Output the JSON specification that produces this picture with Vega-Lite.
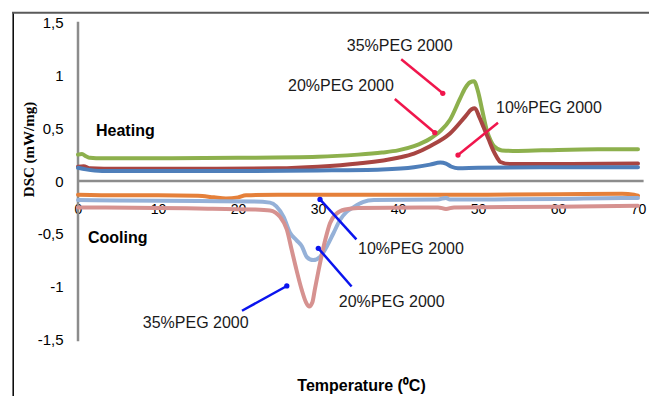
{
  "$schema": "https://vega.github.io/schema/vega-lite/v6.json",
  "width": 637,
  "height": 384,
  "autosize": "none",
  "padding": {"left": 12, "top": 12, "right": 0, "bottom": 0},
  "background": "white",
  "config": {"view": {"stroke": null}, "font": "Liberation Sans"},
  "datasets": {
    "one": [{}],
    "curves": [
      {"series": "h35", "T": 0, "v": 0.25}, {"series": "h35", "T": 0.5, "v": 0.255}, {"series": "h35", "T": 1, "v": 0.235}, {"series": "h35", "T": 1.5, "v": 0.22}, {"series": "h35", "T": 3, "v": 0.215}, {"series": "h35", "T": 10, "v": 0.215}, {"series": "h35", "T": 20, "v": 0.22}, {"series": "h35", "T": 30, "v": 0.23}, {"series": "h35", "T": 35, "v": 0.25}, {"series": "h35", "T": 38, "v": 0.27}, {"series": "h35", "T": 40, "v": 0.29}, {"series": "h35", "T": 42, "v": 0.33}, {"series": "h35", "T": 44, "v": 0.4}, {"series": "h35", "T": 45.25, "v": 0.47}, {"series": "h35", "T": 46.5, "v": 0.58}, {"series": "h35", "T": 47.75, "v": 0.78}, {"series": "h35", "T": 48.4, "v": 0.88}, {"series": "h35", "T": 49, "v": 0.935}, {"series": "h35", "T": 49.5, "v": 0.945}, {"series": "h35", "T": 50, "v": 0.85}, {"series": "h35", "T": 50.5, "v": 0.68}, {"series": "h35", "T": 51.1, "v": 0.48}, {"series": "h35", "T": 51.6, "v": 0.38}, {"series": "h35", "T": 52, "v": 0.33}, {"series": "h35", "T": 53, "v": 0.29}, {"series": "h35", "T": 55, "v": 0.285}, {"series": "h35", "T": 60, "v": 0.295}, {"series": "h35", "T": 65, "v": 0.3}, {"series": "h35", "T": 70, "v": 0.3},
      {"series": "h20", "T": 0, "v": 0.135}, {"series": "h20", "T": 0.7, "v": 0.14}, {"series": "h20", "T": 1.5, "v": 0.12}, {"series": "h20", "T": 5, "v": 0.115}, {"series": "h20", "T": 15, "v": 0.115}, {"series": "h20", "T": 25, "v": 0.12}, {"series": "h20", "T": 30, "v": 0.135}, {"series": "h20", "T": 35, "v": 0.165}, {"series": "h20", "T": 40, "v": 0.22}, {"series": "h20", "T": 42, "v": 0.26}, {"series": "h20", "T": 44, "v": 0.33}, {"series": "h20", "T": 46.5, "v": 0.45}, {"series": "h20", "T": 48.4, "v": 0.61}, {"series": "h20", "T": 49.2, "v": 0.68}, {"series": "h20", "T": 49.6, "v": 0.69}, {"series": "h20", "T": 50.2, "v": 0.6}, {"series": "h20", "T": 50.7, "v": 0.51}, {"series": "h20", "T": 51.3, "v": 0.4}, {"series": "h20", "T": 51.9, "v": 0.29}, {"series": "h20", "T": 52.4, "v": 0.22}, {"series": "h20", "T": 52.8, "v": 0.18}, {"series": "h20", "T": 54, "v": 0.16}, {"series": "h20", "T": 60, "v": 0.16}, {"series": "h20", "T": 70, "v": 0.165},
      {"series": "h10", "T": 0, "v": 0.125}, {"series": "h10", "T": 1, "v": 0.11}, {"series": "h10", "T": 3, "v": 0.095}, {"series": "h10", "T": 10, "v": 0.095}, {"series": "h10", "T": 20, "v": 0.095}, {"series": "h10", "T": 30, "v": 0.1}, {"series": "h10", "T": 38, "v": 0.11}, {"series": "h10", "T": 42, "v": 0.13}, {"series": "h10", "T": 44, "v": 0.155}, {"series": "h10", "T": 45.3, "v": 0.175}, {"series": "h10", "T": 46, "v": 0.165}, {"series": "h10", "T": 46.7, "v": 0.135}, {"series": "h10", "T": 47.5, "v": 0.12}, {"series": "h10", "T": 50, "v": 0.125}, {"series": "h10", "T": 60, "v": 0.13}, {"series": "h10", "T": 70, "v": 0.13},
      {"series": "c10", "T": 0, "v": -0.13}, {"series": "c10", "T": 5, "v": -0.135}, {"series": "c10", "T": 10, "v": -0.135}, {"series": "c10", "T": 15, "v": -0.14}, {"series": "c10", "T": 17, "v": -0.155}, {"series": "c10", "T": 18.5, "v": -0.165}, {"series": "c10", "T": 20, "v": -0.155}, {"series": "c10", "T": 21, "v": -0.135}, {"series": "c10", "T": 25, "v": -0.13}, {"series": "c10", "T": 30, "v": -0.13}, {"series": "c10", "T": 40, "v": -0.13}, {"series": "c10", "T": 50, "v": -0.13}, {"series": "c10", "T": 60, "v": -0.125}, {"series": "c10", "T": 68, "v": -0.12}, {"series": "c10", "T": 69.5, "v": -0.13}, {"series": "c10", "T": 70, "v": -0.14},
      {"series": "c20", "T": 0, "v": -0.18}, {"series": "c20", "T": 5, "v": -0.185}, {"series": "c20", "T": 15, "v": -0.19}, {"series": "c20", "T": 22, "v": -0.195}, {"series": "c20", "T": 24, "v": -0.205}, {"series": "c20", "T": 24.8, "v": -0.24}, {"series": "c20", "T": 25.7, "v": -0.34}, {"series": "c20", "T": 26.5, "v": -0.49}, {"series": "c20", "T": 27.3, "v": -0.56}, {"series": "c20", "T": 28, "v": -0.62}, {"series": "c20", "T": 28.6, "v": -0.72}, {"series": "c20", "T": 29.4, "v": -0.75}, {"series": "c20", "T": 30.25, "v": -0.72}, {"series": "c20", "T": 31.1, "v": -0.62}, {"series": "c20", "T": 31.9, "v": -0.5}, {"series": "c20", "T": 32.75, "v": -0.37}, {"series": "c20", "T": 33.6, "v": -0.29}, {"series": "c20", "T": 34.4, "v": -0.25}, {"series": "c20", "T": 35.6, "v": -0.2}, {"series": "c20", "T": 37, "v": -0.18}, {"series": "c20", "T": 45, "v": -0.175}, {"series": "c20", "T": 46, "v": -0.16}, {"series": "c20", "T": 46.5, "v": -0.175}, {"series": "c20", "T": 50, "v": -0.175}, {"series": "c20", "T": 60, "v": -0.17}, {"series": "c20", "T": 68, "v": -0.16}, {"series": "c20", "T": 70, "v": -0.16},
      {"series": "c35", "T": 0, "v": -0.25}, {"series": "c35", "T": 10, "v": -0.255}, {"series": "c35", "T": 15, "v": -0.26}, {"series": "c35", "T": 22, "v": -0.27}, {"series": "c35", "T": 24, "v": -0.28}, {"series": "c35", "T": 25.25, "v": -0.34}, {"series": "c35", "T": 26.1, "v": -0.46}, {"series": "c35", "T": 26.7, "v": -0.65}, {"series": "c35", "T": 27.3, "v": -0.84}, {"series": "c35", "T": 27.96, "v": -1.03}, {"series": "c35", "T": 28.5, "v": -1.15}, {"series": "c35", "T": 28.9, "v": -1.19}, {"series": "c35", "T": 29.3, "v": -1.15}, {"series": "c35", "T": 29.6, "v": -1.03}, {"series": "c35", "T": 30.25, "v": -0.78}, {"series": "c35", "T": 30.9, "v": -0.56}, {"series": "c35", "T": 31.5, "v": -0.4}, {"series": "c35", "T": 32.3, "v": -0.31}, {"series": "c35", "T": 33.4, "v": -0.27}, {"series": "c35", "T": 35, "v": -0.255}, {"series": "c35", "T": 45, "v": -0.25}, {"series": "c35", "T": 46, "v": -0.265}, {"series": "c35", "T": 47, "v": -0.25}, {"series": "c35", "T": 60, "v": -0.245}, {"series": "c35", "T": 70, "v": -0.235}
    ],
    "arrows": [
      {"group": "heat", "T": 40.4, "v": 1.154, "T2": 45.6, "v2": 0.831},
      {"group": "heat", "T": 39.6, "v": 0.777, "T2": 44.6, "v2": 0.458},
      {"group": "heat", "T": 52.5, "v": 0.553, "T2": 47.5, "v2": 0.246},
      {"group": "cool", "T": 34.8, "v": -0.553, "T2": 30.25, "v2": -0.175},
      {"group": "cool", "T": 34.2, "v": -1.0, "T2": 30.04, "v2": -0.638},
      {"group": "cool", "T": 20.5, "v": -1.23, "T2": 26.1, "v2": -0.995}
    ],
    "labels": [
      {"label": "35%PEG 2000", "T": 33.6, "v": 1.283},
      {"label": "20%PEG 2000", "T": 26.25, "v": 0.9},
      {"label": "10%PEG 2000", "T": 52.25, "v": 0.695},
      {"label": "10%PEG 2000", "T": 35.0, "v": -0.647},
      {"label": "20%PEG 2000", "T": 32.6, "v": -1.15},
      {"label": "35%PEG 2000", "T": 8.1, "v": -1.35}
    ],
    "phases": [
      {"label": "Heating", "T": 2.25, "v": 0.474},
      {"label": "Cooling", "T": 1.25, "v": -0.536}
    ]
  },
  "layer": [
    {
      "data": {"name": "one"},
      "mark": {"type": "rule", "color": "#000000", "strokeWidth": 1.5},
      "encoding": {
        "x": {"datum": -8.1, "type": "quantitative"},
        "y": {"datum": -2.038, "type": "quantitative"},
        "y2": {"datum": 1.602}
      }
    },
    {
      "data": {"name": "one"},
      "mark": {"type": "rule", "color": "#5a5a5a", "strokeWidth": 2},
      "encoding": {
        "y": {"datum": 1.595, "type": "quantitative"},
        "x": {"datum": -8.25, "type": "quantitative"},
        "x2": {"datum": 71.375}
      }
    },
    {
      "data": {"name": "one"},
      "mark": {"type": "rule", "color": "#8c8c8c", "strokeWidth": 2.5},
      "encoding": {
        "x": {"datum": 0, "type": "quantitative"},
        "y": {"datum": -1.52, "type": "quantitative"},
        "y2": {"datum": 1.51}
      }
    },
    {
      "data": {"name": "one"},
      "mark": {"type": "rule", "color": "#8c8c8c", "strokeWidth": 2.5},
      "encoding": {
        "y": {"datum": 0, "type": "quantitative"},
        "x": {"datum": 0, "type": "quantitative"},
        "x2": {"datum": 70.7}
      }
    },
    {
      "data": {"name": "curves"},
      "mark": {"type": "line", "strokeWidth": 4, "strokeCap": "round", "strokeJoin": "round", "interpolate": "monotone"},
      "encoding": {
        "x": {
          "field": "T", "type": "quantitative", "title": "Temperature (⁰C)",
          "scale": {"domain": [-8.25, 71.375], "nice": false, "zero": false},
          "axis": {
            "orient": "bottom", "offset": -215, "domain": false, "ticks": false, "tickSize": 0, "grid": false,
            "values": [0, 10, 20, 30, 40, 50, 60, 70], "labelPadding": 21, "labelFontSize": 14,
            "labelFont": "Liberation Sans", "labelColor": "#000000",
            "titleX": 349, "titleY": 204, "titleFont": "Liberation Sans", "titleFontWeight": "bold",
            "titleFontSize": 16, "titleBaseline": "middle", "titleAlign": "center", "titleColor": "#000000"
          }
        },
        "y": {
          "field": "v", "type": "quantitative", "title": "DSC (mW/mg)",
          "scale": {"domain": [-2.038, 1.602], "nice": false, "zero": false},
          "axis": {
            "orient": "left", "offset": -66, "domain": false, "ticks": false, "tickSize": 0, "grid": false,
            "values": [-1.5, -1, -0.5, 0, 0.5, 1, 1.5], "labelPadding": 15, "labelFontSize": 15,
            "labelExpr": "replace(toString(datum.value), '.', ',')",
            "labelFont": "Liberation Sans", "labelColor": "#000000",
            "titleX": -50, "titleY": 137, "titleAngle": -90, "titleFont": "Liberation Serif",
            "titleFontWeight": "bold", "titleFontSize": 15, "titleBaseline": "middle", "titleAlign": "center",
            "titleColor": "#000000"
          }
        },
        "color": {
          "field": "series", "type": "nominal", "legend": null,
          "scale": {
            "domain": ["h35", "h20", "h10", "c10", "c20", "c35"],
            "range": ["#8db04d", "#a84542", "#4f7fba", "#e5803a", "#95b1d8", "#d69290"]
          }
        },
        "order": {"field": "T", "type": "quantitative"}
      }
    },
    {
      "data": {"name": "arrows"},
      "mark": {"type": "rule", "strokeWidth": 2.5},
      "encoding": {
        "x": {"field": "T", "type": "quantitative", "title": "Temperature (⁰C)"},
        "y": {"field": "v", "type": "quantitative", "title": "DSC (mW/mg)"},
        "x2": {"field": "T2"},
        "y2": {"field": "v2"},
        "stroke": {"field": "group", "type": "nominal", "legend": null, "scale": {"domain": ["heat", "cool"], "range": ["#f0164c", "#0a14ee"]}}
      }
    },
    {
      "data": {"name": "arrows"},
      "mark": {"type": "point", "filled": true, "size": 28, "opacity": 1},
      "encoding": {
        "x": {"field": "T2", "type": "quantitative", "title": "Temperature (⁰C)"},
        "y": {"field": "v2", "type": "quantitative", "title": "DSC (mW/mg)"},
        "fill": {"field": "group", "type": "nominal", "legend": null, "scale": {"domain": ["heat", "cool"], "range": ["#f0164c", "#0a14ee"]}}
      }
    },
    {
      "data": {"name": "labels"},
      "mark": {"type": "text", "align": "left", "baseline": "middle", "fontSize": 16, "font": "Liberation Sans", "color": "#1a1a1a"},
      "encoding": {
        "x": {"field": "T", "type": "quantitative", "title": "Temperature (⁰C)"},
        "y": {"field": "v", "type": "quantitative", "title": "DSC (mW/mg)"},
        "text": {"field": "label"}
      }
    },
    {
      "data": {"name": "phases"},
      "mark": {"type": "text", "align": "left", "baseline": "middle", "fontSize": 16, "fontWeight": "bold", "font": "Liberation Sans", "color": "#000000"},
      "encoding": {
        "x": {"field": "T", "type": "quantitative", "title": "Temperature (⁰C)"},
        "y": {"field": "v", "type": "quantitative", "title": "DSC (mW/mg)"},
        "text": {"field": "label"}
      }
    }
  ]
}
